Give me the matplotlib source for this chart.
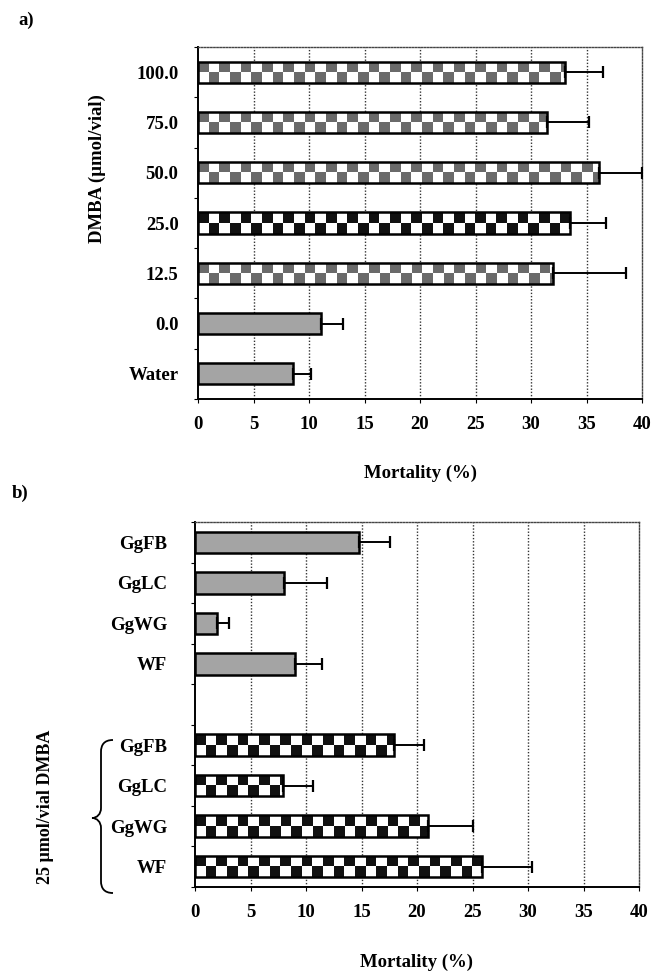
import numpy as np
import matplotlib
matplotlib.use("Agg")
import matplotlib.pyplot as plt
from matplotlib.colors import ListedColormap
from matplotlib.path import Path
from matplotlib.patches import PathPatch
from matplotlib.ticker import FixedLocator

plt.rcParams['font.family'] = ['Liberation Serif', 'DejaVu Serif']
plt.rcParams['font.weight'] = 'bold'

# panel a data
a_labels = ['100.0', '75.0', '50.0', '25.0', '12.5', '0.0', 'Water']
a_vals = [33.1, 31.4, 36.1, 33.5, 32.0, 11.1, 8.6]
a_err = [3.4, 3.8, 3.9, 3.3, 6.6, 2.0, 1.6]
a_fill = ['graychk', 'graychk', 'graychk', 'blackchk', 'graychk', 'gray', 'gray']

# panel b data (first group: extracts alone, second group: with 25 umol/vial DMBA)
b_labels1 = ['GgFB', 'GgLC', 'GgWG', 'WF']
b_vals1 = [14.8, 8.0, 2.0, 9.0]
b_err1 = [2.8, 3.9, 1.1, 2.4]
b_labels2 = ['GgFB', 'GgLC', 'GgWG', 'WF']
b_vals2 = [17.9, 7.9, 21.0, 25.9]
b_err2 = [2.7, 2.7, 4.0, 4.5]

xticks = [0, 5, 10, 15, 20, 25, 30, 35, 40]

W, H = 651, 972
fig = plt.figure(figsize=(W / 100, H / 100), dpi=100)

FS = 13.5
SQ = 0.96  # checker square width in data units
chk_cmaps = {
    'graychk': ListedColormap(['white', '#6a6a6a']),
    'blackchk': ListedColormap(['white', '#111111']),
}


def px_axes(l, t, r, b):
    return fig.add_axes([l / W, 1 - b / H, (r - l) / W, (b - t) / H])


def draw_panel(ax, pos, vals, errs, fills, labels, height, nslots, pad):
    bars = ax.barh(pos, vals, height=height, color='white', edgecolor='none', zorder=2)
    for bar, v, f in zip(bars, vals, fills):
        if f == 'gray':
            bar.set_facecolor('#a4a4a4')
        else:
            y0 = bar.get_y()
            n = int(np.ceil(v / SQ)) + 1
            chk = (np.add.outer(np.arange(2), np.arange(n)) % 2)
            im = ax.imshow(chk, cmap=chk_cmaps[f], interpolation='nearest',
                           extent=(0, n * SQ, y0, y0 + height), aspect='auto', zorder=2.5)
            im.set_clip_path(bar)
    ax.barh(pos, vals, height=height, fill=False, edgecolor='black', linewidth=1.8, zorder=3)
    ax.errorbar(vals, pos, xerr=[np.zeros(len(vals)), errs], fmt='none', ecolor='black',
                elinewidth=1.4, capsize=4, capthick=1.6, zorder=4)
    ax.set_xlim(0, 40)
    ax.set_ylim(nslots - 0.5, -0.5)
    ax.set_xticks(xticks)
    ax.set_xticklabels([str(t) for t in xticks], fontsize=FS, fontweight='bold')
    ax.set_yticks(pos)
    ax.set_yticklabels(labels, fontsize=FS, fontweight='bold')
    ax.yaxis.set_minor_locator(FixedLocator(np.arange(nslots + 1) - 0.5))
    ax.tick_params(axis='y', which='major', length=0, pad=pad)
    ax.tick_params(axis='y', which='minor', length=3, width=0.8, direction='out')
    ax.tick_params(axis='x', length=3, width=0.8, direction='out', pad=9)
    for x in xticks[1:-1]:
        ax.axvline(x, color='#333333', linestyle=(0, (1, 1.3)), linewidth=1.0, zorder=1)
    for s in ['top', 'right']:
        ax.spines[s].set_linestyle((0, (1, 1.2)))
        ax.spines[s].set_linewidth(1.0)
        ax.spines[s].set_color('#444444')
    for s in ['left', 'bottom']:
        ax.spines[s].set_linewidth(1.4)


# ---- panel a ----
ax1 = px_axes(198, 47, 642, 399)
draw_panel(ax1, np.arange(len(a_vals)), a_vals, a_err, a_fill, a_labels,
           0.42, len(a_vals), 14)
fig.text(420 / W, 1 - 473 / H, 'Mortality (%)', ha='center', va='center',
         fontsize=FS, fontweight='bold')
fig.text(97 / W, 1 - 169 / H, 'DMBA (\u00b5mol/vial)', rotation=90, ha='center',
         va='center', fontsize=13.5, fontweight='bold')
fig.text(26 / W, 1 - 20 / H, 'a)', ha='center', va='center', fontsize=FS, fontweight='bold')

# ---- panel b ----
ax2 = px_axes(195, 522, 639, 887)
pos_b = np.concatenate([np.arange(4), np.arange(4) + 5])
draw_panel(ax2, pos_b, b_vals1 + b_vals2, b_err1 + b_err2,
           ['gray'] * 4 + ['blackchk'] * 4, b_labels1 + b_labels2, 0.53, 9, 20)
fig.text(417 / W, 1 - 962 / H, 'Mortality (%)', ha='center', va='center',
         fontsize=FS, fontweight='bold')
fig.text(45 / W, 1 - 807 / H, '25 \u00b5mol/vial DMBA', rotation=90, ha='center',
         va='center', fontsize=13, fontweight='bold')
fig.text(20 / W, 1 - 493 / H, 'b)', ha='center', va='center', fontsize=FS, fontweight='bold')

# curly brace next to the DMBA group
pts = [(113, 740), (104, 740), (101, 745), (101, 752),
       (101, 808),
       (101, 814), (97, 818), (92, 818),
       (97, 818), (101, 822), (101, 828),
       (101, 881),
       (101, 888), (104, 893), (113, 893)]
codes = [Path.MOVETO, Path.CURVE4, Path.CURVE4, Path.CURVE4,
         Path.LINETO,
         Path.CURVE4, Path.CURVE4, Path.CURVE4,
         Path.CURVE4, Path.CURVE4, Path.CURVE4,
         Path.LINETO,
         Path.CURVE4, Path.CURVE4, Path.CURVE4]
brace = Path([(x / W, 1 - y / H) for x, y in pts], codes)
fig.patches.append(PathPatch(brace, transform=fig.transFigure, fill=False,
                             edgecolor='black', linewidth=1.3))

fig.savefig('out.png', dpi=100)
plt.close(fig)
